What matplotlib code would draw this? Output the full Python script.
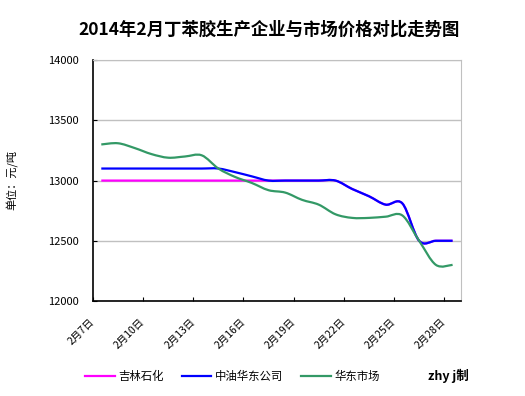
import matplotlib

matplotlib.use("Agg")
import matplotlib.pyplot as plt
import numpy as np
from matplotlib.lines import Line2D
from matplotlib.patches import PathPatch
from matplotlib.path import Path

plt.rcParams["font.family"] = ["Noto Sans CJK SC", "DejaVu Sans"]

# one point per day, 2月7日 .. 2月28日
days = [7, 8, 9, 10, 11, 12, 13, 14, 15, 16, 17, 18, 19, 20, 21, 22, 23, 24, 25, 26, 27, 28]
tick_labels = ["2月7日", "2月10日", "2月13日", "2月16日", "2月19日", "2月22日", "2月25日", "2月28日"]

jilin = [13000, 13000, 13000, 13000, 13000, 13000, 13000, 13000, 13000, 13000, 13000,
         13000, 13000, 13000, 13000, 12930, 12870, 12800, 12810, 12500, 12500, 12500]
zhongyou = [13100, 13100, 13100, 13100, 13100, 13100, 13100, 13100, 13070, 13035, 13000,
            13000, 13000, 13000, 13000, 12930, 12870, 12800, 12810, 12500, 12500, 12500]
huadong = [13300, 13310, 13270, 13220, 13190, 13200, 13210, 13100, 13030, 12980, 12920,
           12900, 12840, 12800, 12720, 12690, 12690, 12700, 12710, 12500, 12300, 12300]

series = [
    ("吉林石化", jilin, "#FF00FF"),
    ("中油华东公司", zhongyou, "#0000FF"),
    ("华东市场", huadong, "#339966"),
]


def smooth_path(xs, ys):
    # excel style smoothed line: catmull-rom segments as cubic bezier
    pts = np.column_stack([xs, ys]).astype(float)
    ext = np.vstack([pts[0], pts, pts[-1]])
    verts = [pts[0]]
    codes = [Path.MOVETO]
    for i in range(len(pts) - 1):
        p0, p1, p2, p3 = ext[i], ext[i + 1], ext[i + 2], ext[i + 3]
        verts += [p1 + (p2 - p0) / 6, p2 - (p3 - p1) / 6, p2]
        codes += [Path.CURVE4] * 3
    return Path(verts, codes)


fig = plt.figure(figsize=(5.25, 3.96), dpi=100)
ax = fig.add_axes([0.177, 0.240, 0.701, 0.608])

x = np.arange(len(days))
handles = []
for label, values, color in series:
    patch = PathPatch(smooth_path(x, values), fill=False, edgecolor=color, lw=1.6,
                      capstyle="butt", joinstyle="round")
    ax.add_patch(patch)
    handles.append(Line2D([], [], color=color, lw=1.6, label=label))

ax.set_xlim(-0.5, len(days) - 0.5)
ax.set_ylim(12000, 14000)
ax.set_yticks([12000, 12500, 13000, 13500, 14000])
ax.yaxis.grid(True, color="#C0C0C0", lw=1)
ax.set_axisbelow(True)

ax.set_xticks(np.arange(-0.5, len(days) - 0.5, 3))
ax.set_xticklabels(tick_labels, rotation=45, ha="right", va="center",
                   rotation_mode="anchor", fontsize=7.5)
ax.tick_params(axis="x", direction="in", length=3, pad=14)
ax.tick_params(axis="y", direction="in", length=3, labelsize=8, pad=10)

for side in ["top", "right"]:
    ax.spines[side].set_color("#C0C0C0")
for side in ["left", "bottom"]:
    ax.spines[side].set_color("black")
    ax.spines[side].set_linewidth(1.2)

fig.text(0.512, 0.925, "2014年2月丁苯胶生产企业与市场价格对比走势图",
         ha="center", va="center", fontsize=12.5, fontweight="bold")
fig.text(0.024, 0.545, "单位：元/吨", rotation=90, ha="center", va="center", fontsize=8)

fig.legend(handles=handles, loc="center left", bbox_to_anchor=(0.162, 0.05), ncol=3,
           frameon=False, fontsize=8.2, handlelength=2.6, handletextpad=0.3,
           columnspacing=1.6, borderpad=0, borderaxespad=0)
fig.text(0.815, 0.05, "zhy j制", ha="left", va="center", fontsize=9, fontweight="bold")

fig.savefig("out.png", dpi=100)
